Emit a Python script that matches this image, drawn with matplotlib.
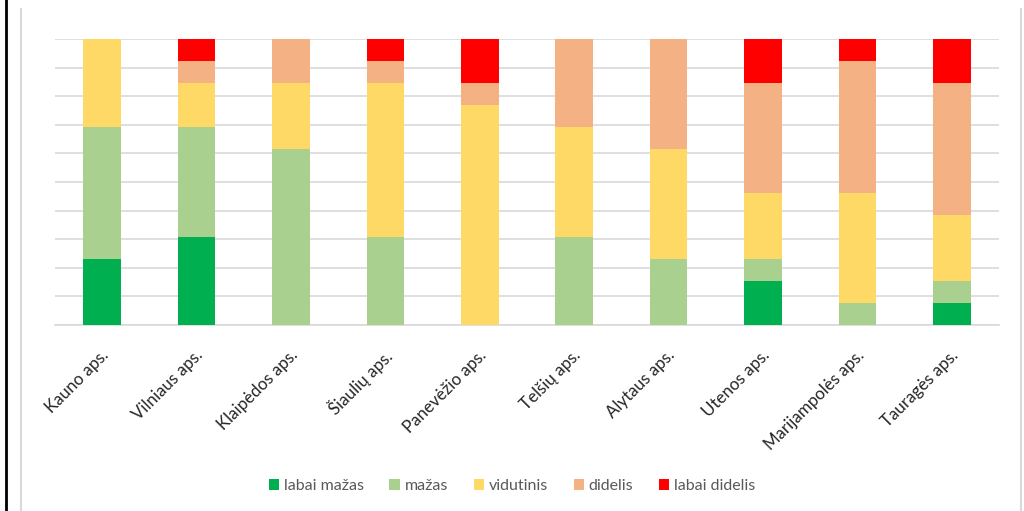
import numpy as np
import matplotlib
matplotlib.use("Agg")
from matplotlib import pyplot as plt
from matplotlib.lines import Line2D
import matplotlib.transforms as mtransforms

# districts (apskritys)
regions = ["Kauno aps.", "Vilniaus aps.", "Klaipėdos aps.", "Šiaulių aps.",
           "Panevėžio aps.", "Telšių aps.", "Alytaus aps.", "Utenos aps.",
           "Marijampolės aps.", "Tauragės aps."]

# counts per category (each district sums to 13)
labai_mazas = [3, 4, 0, 0, 0, 0, 0, 2, 0, 1]
mazas = [6, 5, 8, 4, 0, 4, 3, 1, 1, 1]
vidutinis = [4, 2, 3, 7, 10, 5, 5, 3, 5, 3]
didelis = [0, 1, 2, 1, 1, 4, 5, 5, 6, 6]
labai_didelis = [0, 1, 0, 1, 2, 0, 0, 2, 1, 2]

series_names = ["labai mažas", "mažas", "vidutinis", "didelis", "labai didelis"]
colors = ["#00B050", "#A9D08E", "#FFD966", "#F4B183", "#FF0000"]

data = np.array([labai_mazas, mazas, vidutinis, didelis, labai_didelis], dtype=float)
share = data / data.sum(axis=0) * 100

fig = plt.figure(figsize=(10.24, 5.11), dpi=100)
ax = fig.add_axes([55 / 1024, 1 - 325 / 511, 944 / 1024, 286 / 511])

x = np.arange(len(regions))
bottom = np.zeros(len(regions))
for vals, name, col in zip(share, series_names, colors):
    ax.bar(x, vals, width=0.4, bottom=bottom, color=col, label=name, zorder=3)
    bottom += vals

ax.set_xlim(-0.5, len(regions) - 0.5)
ax.set_ylim(0, 100)
ax.set_yticks(np.arange(0, 101, 10))
ax.set_yticklabels([])
ax.tick_params(axis="y", length=0)
ax.tick_params(axis="x", length=0, pad=20)
ax.grid(axis="y", color="#D9D9D9", linewidth=1.2, zorder=0)
for s in ["top", "left", "right"]:
    ax.spines[s].set_visible(False)
ax.spines["bottom"].set_color("#D9D9D9")
ax.spines["bottom"].set_linewidth(1.2)

ax.set_xticks(x)
ax.set_xticklabels(regions, rotation=45, ha="right", va="center",
                   rotation_mode="anchor", fontsize=12.2, family="Lato",
                   color="#262626")
offset = mtransforms.ScaledTranslation(4 / 100, 0, fig.dpi_scale_trans)
for lbl in ax.get_xticklabels():
    lbl.set_transform(lbl.get_transform() + offset)

leg = fig.legend(loc="center", bbox_to_anchor=(512 / 1024, 1 - 486 / 511),
                 ncol=5, frameon=False, handlelength=0.65, handleheight=0.65,
                 handletextpad=0.3, columnspacing=1.6,
                 prop={"family": "Lato", "size": 11.5})
for t in leg.get_texts():
    t.set_color("#595959")

# frame lines of the screenshot
fig.add_artist(Line2D([6 / 1024, 6 / 1024], [0, 1], color="black", linewidth=2,
                      transform=fig.transFigure))
fig.add_artist(Line2D([21 / 1024, 21 / 1024], [0, 1 - 9 / 511], color="#D9D9D9",
                      linewidth=1.5, transform=fig.transFigure))
fig.add_artist(Line2D([1021 / 1024, 1021 / 1024], [0, 1 - 9 / 511], color="#D9D9D9",
                      linewidth=1.5, transform=fig.transFigure))

fig.savefig("out.png", dpi=100)
